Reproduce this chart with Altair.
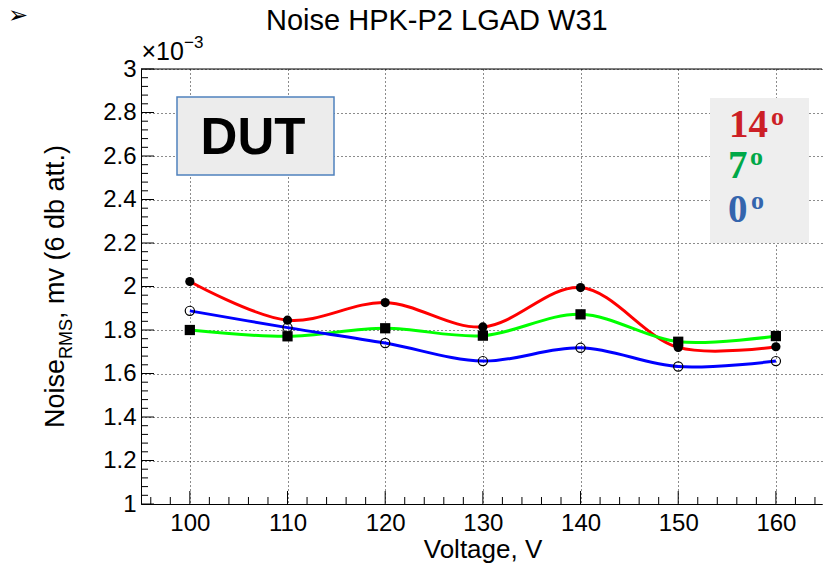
import altair as alt
import pandas as pd

# ---- data ----
voltage = [100, 110, 120, 130, 140, 150, 160]
noise_14 = [2.023, 1.845, 1.926, 1.814, 1.995, 1.720, 1.723]   # x1e-3
noise_7 = [1.800, 1.771, 1.808, 1.774, 1.872, 1.746, 1.772]
noise_0 = [1.888, 1.811, 1.740, 1.657, 1.718, 1.632, 1.657]
series_names = ["14", "7", "0"]
series_colors = ["#ff0000", "#00ff00", "#0000ff"]

x_major = [100, 110, 120, 130, 140, 150, 160]
x_minor = [96, 98, 102, 104, 106, 108, 112, 114, 116, 118, 122, 124, 126, 128,
           132, 134, 136, 138, 142, 144, 146, 148, 152, 154, 156, 158, 162, 164]
y_major = [1.0, 1.2, 1.4, 1.6, 1.8, 2.0, 2.2, 2.4, 2.6, 2.8, 3.0]
y_minor = [round(1.0 + 0.04 * i, 2) for i in range(1, 50) if i % 5 != 0]

W, H = 681, 435
XDOM = [95, 164.72]
YDOM = [1.0, 3.0]
FONT = "Liberation Sans"

rows = []
for name, vals in zip(series_names, [noise_14, noise_7, noise_0]):
    for v, n in zip(voltage, vals):
        rows.append({"series": name, "voltage": v, "noise": n})
df = pd.DataFrame(rows)

xs = alt.Scale(domain=XDOM, nice=False, zero=False)
ys = alt.Scale(domain=YDOM, nice=False, zero=False)

x_axis = alt.Axis(values=x_major, title=None, ticks=False, labelFontSize=24, labelFont=FONT,
                  labelColor="black", labelPadding=7, domainColor="black", domainWidth=1,
                  grid=True, gridColor="black", gridDash=[1, 3], gridWidth=1, gridOpacity=0.9,
                  labelFlush=False, labelOverlap=False)
y_axis = alt.Axis(values=y_major, title=None, ticks=False, labelFontSize=24, labelFont=FONT,
                  labelColor="black", labelPadding=5, domainColor="black", domainWidth=1,
                  grid=True, gridColor="black", gridDash=[1, 3], gridWidth=1, gridOpacity=0.9,
                  format=".1~f", labelFlush=False, labelOverlap=False)

X = lambda: alt.X("voltage:Q", scale=xs, axis=x_axis)
Y = lambda: alt.Y("noise:Q", scale=ys, axis=y_axis)

color = alt.Color("series:N", scale=alt.Scale(domain=series_names, range=series_colors), legend=None)

lines = alt.Chart(df).mark_line(interpolate="catmull-rom", strokeWidth=3).encode(
    x=X(), y=Y(), color=color, detail="series:N",
)

def pts(name, shape, filled, size):
    return alt.Chart(df).transform_filter(alt.datum.series == name).mark_point(
        shape=shape, filled=filled, size=size, color="black", strokeWidth=1.2, opacity=1
    ).encode(x=X(), y=Y())

p14 = pts("14", "circle", True, 85)
p7 = pts("7", "square", True, 105)
p0 = pts("0", "circle", False, 85)

# ticks drawn inward like ROOT
xmaj = alt.Chart(pd.DataFrame({"voltage": x_major})).mark_rule(color="black").encode(
    x=X(), y=alt.value(H), y2=alt.value(H - 13))
xmin = alt.Chart(pd.DataFrame({"voltage": x_minor})).mark_rule(color="black").encode(
    x=X(), y=alt.value(H), y2=alt.value(H - 7))
ymaj = alt.Chart(pd.DataFrame({"noise": y_major})).mark_rule(color="black").encode(
    y=Y(), x=alt.value(0), x2=alt.value(13))
ymin = alt.Chart(pd.DataFrame({"noise": y_minor})).mark_rule(color="black").encode(
    y=Y(), x=alt.value(0), x2=alt.value(7))

one = pd.DataFrame({"k": [0]})
frame_top = alt.Chart(one).mark_rule(color="black", strokeWidth=1).encode(
    x=alt.value(0), x2=alt.value(W), y=alt.value(0))

def box(x1, x2, y1, y2, fill, stroke=None, sw=0):
    kw = dict(fill=fill, opacity=1)
    if stroke:
        kw.update(stroke=stroke, strokeWidth=sw)
    return alt.Chart(one).mark_rect(**kw).encode(
        x=alt.value(x1), x2=alt.value(x2), y=alt.value(y1), y2=alt.value(y2))

def label(txt, x, y, size, color="black", font=FONT, weight="normal", align="left",
          baseline="alphabetic", angle=0):
    return alt.Chart(one).mark_text(align=align, baseline=baseline, font=font, fontSize=size,
                                    fontWeight=weight, color=color, angle=angle).encode(
        x=alt.value(x), y=alt.value(y), text=alt.value(txt))

dut_box = box(36, 193, 28, 106, "#ececec", "#4f81bd", 1.5)
leg_box = box(569, 668, 29, 174, "#eeeeee")

texts = [
    label("Noise HPK-P2 LGAD W31", 125, -39.5, 29),
    label("\u27a2", -133, -46, 24, font="DejaVu Sans"),
    label("\u00d710", 0.5, -9, 25),
    label("\u22123", 43, -21, 17),
    label("DUT", 112, 84.5, 51, weight="bold", align="center"),
    label("14", 588, 68, 39, color="#cc1f26", font="Liberation Serif", weight="bold"),
    label("o", 630, 56, 26, color="#cc1f26", font="Liberation Serif", weight="bold"),
    label("7", 587, 109, 39, color="#00a848", font="Liberation Serif", weight="bold"),
    label("o", 609, 96, 26, color="#00a848", font="Liberation Serif", weight="bold"),
    label("0", 587, 153, 39, color="#3465ad", font="Liberation Serif", weight="bold"),
    label("o", 610, 140, 26, color="#3465ad", font="Liberation Serif", weight="bold"),
    label("Voltage, V", 342, 489, 26, align="center"),
    label("Noise", -77, 359, 27, angle=270),
    label("RMS", -69, 290, 18, angle=270),
    label(", mv (6 db att.)", -77, 250, 27, angle=270),
]

chart = alt.layer(
    lines, xmin, xmaj, ymin, ymaj, frame_top, p7, p14, p0, dut_box, leg_box, *texts
).properties(
    width=W, height=H,
    padding={"left": 141, "top": 69, "right": 1, "bottom": 63},
    autosize=alt.AutoSizeParams(type="none"),
    background="white",
).configure_view(stroke=None)

chart.save("out.html", embed_options={"renderer": "svg", "actions": False})
